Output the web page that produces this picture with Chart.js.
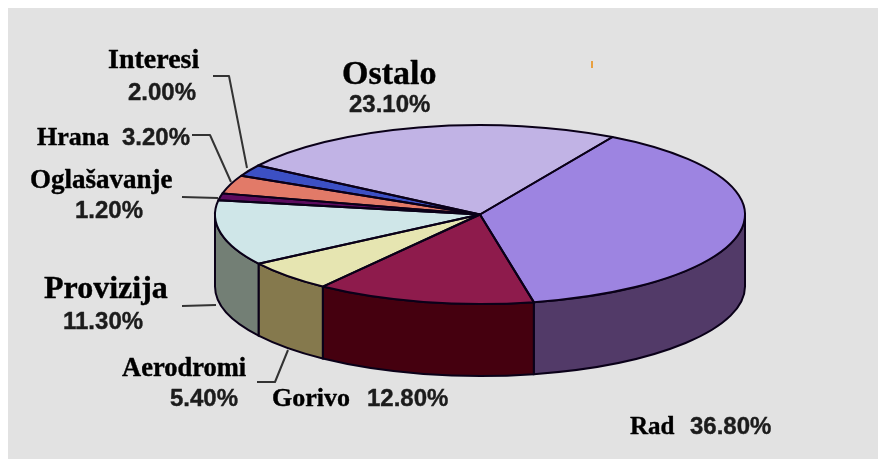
<!DOCTYPE html>
<html>
<head>
<meta charset="utf-8">
<title>Troškovi</title>
<style>
  html, body { margin: 0; padding: 0; background: #fff; overflow: hidden; }
  canvas { display: block; filter: blur(0.6px); }
</style>
</head>
<body>
<canvas id="cost-pie" width="878" height="459"></canvas>
<script src="https://cdn.jsdelivr.net/npm/chart.js@4/dist/chart.umd.min.js"></script>
<script>
const categories = ['Rad', 'Gorivo', 'Aerodromi', 'Provizija', 'Oglašavanje', 'Hrana', 'Interesi', 'Ostalo']
const shares = [36.8, 12.8, 5.4, 11.3, 1.2, 3.2, 2.0, 23.1]

const topColors = ['#9d84e1', '#8e1b4c', '#e6e5b1', '#cfe6e8', '#5c0b5e', '#e27a68', '#3c50c4', '#c1b3e5']
const wallColors = ['#523a68', '#45000f', '#85794d', '#737f75', '#3a0a3a', '#8a4a40', '#253078', '#75698c']

// where the pie sits on the page
const PIE = { cx: 480, cy: 214.5, rx: 265, ry: 89.5, depth: 72 }
const SERIF = '"Liberation Serif", serif'
const SANS = '"Liberation Sans", sans-serif'

// one entry per category: name and value text placement, [x, baseline, font px]
const nameSpots = [[630, 434, 25], [272, 406, 26], [122, 376, 26.5], [44, 298, 32], [30, 188, 27], [37, 145, 26], [108, 68, 28], [342, 84, 34]]
const valueSpots = [[690, 434, 24], [367, 406, 24], [170, 406, 24], [63, 329, 24], [75, 218, 24], [122, 145, 24], [128, 100, 24], [349, 112, 24]]

const leaderLines = [
  [[213, 76], [229, 76], [247, 168]],
  [[192, 135], [210, 135], [231, 182]],
  [[182, 197], [218, 198]],
  [[182, 306], [216, 305]],
  [[257, 382], [275, 382], [288, 350]],
]

const pieTilt = {
  id: 'pieTilt',
  beforeDraw(chart) {
    const ctx = chart.ctx
    ctx.save()
    ctx.fillStyle = '#e2e2e2'
    ctx.fillRect(8, 8, chart.width - 8, chart.height - 8)
    ctx.fillStyle = '#e8a040'
    ctx.fillRect(591, 61, 2, 7)
    ctx.restore()
  },
  beforeDatasetsDraw(chart) {
    const ctx = chart.ctx
    const arcs = chart.getDatasetMeta(0).data

    // side walls, only the part of each slice that faces the viewer
    ctx.save()
    ctx.strokeStyle = '#0a0018'
    ctx.lineWidth = 2
    arcs.forEach((arc, i) => {
      const twoPi = Math.PI * 2
      let a = arc.startAngle
      let b = arc.endAngle
      while (a < -Math.PI / 2) {
        a += twoPi
        b += twoPi
      }
      a = Math.max(a, 0)
      b = Math.min(b, Math.PI)
      if (b <= a) return
      ctx.beginPath()
      ctx.ellipse(PIE.cx, PIE.cy, PIE.rx, PIE.ry, 0, a, b)
      ctx.ellipse(PIE.cx, PIE.cy + PIE.depth, PIE.rx, PIE.ry, 0, b, a, true)
      ctx.closePath()
      ctx.fillStyle = wallColors[i]
      ctx.fill()
      ctx.stroke()
    })
    ctx.restore()

    // squash the round pie into the top ellipse while the library paints it
    const first = arcs[0]
    ctx.save()
    ctx.translate(PIE.cx, PIE.cy)
    ctx.scale(PIE.rx / first.outerRadius, PIE.ry / first.outerRadius)
    ctx.translate(-first.x, -first.y)
  },
  afterDatasetsDraw(chart) {
    const ctx = chart.ctx
    ctx.restore()

    // slice outlines are stroked here so the line width is not squashed
    ctx.save()
    ctx.strokeStyle = '#0a0018'
    ctx.lineWidth = 2
    ctx.lineJoin = 'round'
    chart.getDatasetMeta(0).data.forEach(arc => {
      ctx.beginPath()
      ctx.moveTo(PIE.cx, PIE.cy)
      ctx.ellipse(PIE.cx, PIE.cy, PIE.rx, PIE.ry, 0, arc.startAngle, arc.endAngle)
      ctx.closePath()
      ctx.stroke()
    })

    ctx.strokeStyle = '#333'
    ctx.lineWidth = 2
    leaderLines.forEach(line => {
      ctx.beginPath()
      line.forEach(([x, y], i) => (i ? ctx.lineTo(x, y) : ctx.moveTo(x, y)))
      ctx.stroke()
    })

    ctx.textAlign = 'left'
    ctx.textBaseline = 'alphabetic'
    ctx.lineWidth = 0.4
    categories.forEach((name, i) => {
      const [nx, ny, ns] = nameSpots[i]
      const [vx, vy, vs] = valueSpots[i]
      ctx.fillStyle = ctx.strokeStyle = '#000'
      ctx.font = `bold ${ns}px ${SERIF}`
      ctx.fillText(name, nx, ny)
      ctx.strokeText(name, nx, ny)
      const valueText = shares[i].toFixed(2) + '%'
      ctx.fillStyle = ctx.strokeStyle = '#1c1c1c'
      ctx.font = `bold ${vs}px ${SANS}`
      ctx.fillText(valueText, vx, vy)
      ctx.strokeText(valueText, vx, vy)
    })
    ctx.restore()
  },
}

const ctxPie = document.getElementById('cost-pie').getContext('2d')
const costPie = new Chart(ctxPie, {
  type: 'pie',
  data: {
    labels: categories,
    datasets: [
      {
        data: shares,
        backgroundColor: topColors,
        borderWidth: 0,
        clip: false,
      },
    ],
  },
  options: {
    responsive: false,
    animation: false,
    rotation: 30,
    layout: { padding: 0 },
    plugins: {
      legend: { display: false },
      tooltip: { enabled: false },
    },
  },
  plugins: [pieTilt],
})
</script>
</body>
</html>
